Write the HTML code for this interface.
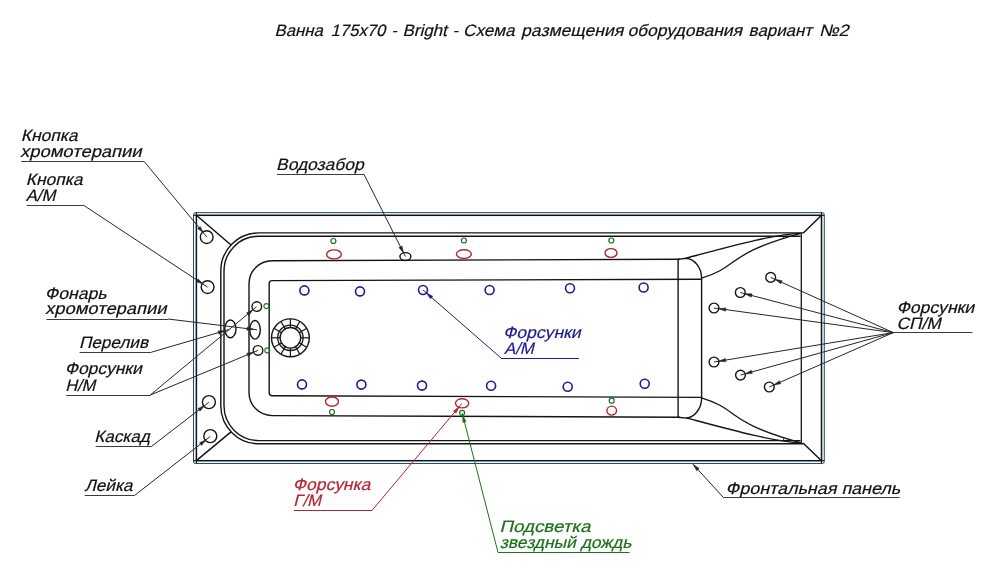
<!DOCTYPE html><html><head><meta charset="utf-8"><style>html,body{margin:0;padding:0;background:#fff;width:1000px;height:588px;overflow:hidden}svg{display:block;will-change:transform}text{font-family:"Liberation Sans",sans-serif}</style></head><body>
<svg width="1000" height="588" viewBox="0 0 1000 588">
<rect width="1000" height="588" fill="#fff"/>
<text transform="translate(274.6,36.2) skewX(-14) scale(1.015,1)" fill="#111" stroke="#111" stroke-width="0.2" font-size="16.5">Ванна</text>
<text transform="translate(330.6,36.2) skewX(-14) scale(1.01,1)" fill="#111" stroke="#111" stroke-width="0.2" font-size="16.5">175x70</text>
<text transform="translate(391.2,36.2) skewX(-14) scale(1.0,1)" fill="#111" stroke="#111" stroke-width="0.2" font-size="16.5">-</text>
<text transform="translate(402.5,36.2) skewX(-14) scale(1.0267,1)" fill="#111" stroke="#111" stroke-width="0.2" font-size="16.5">Bright</text>
<text transform="translate(452.6,36.2) skewX(-14) scale(1.0,1)" fill="#111" stroke="#111" stroke-width="0.2" font-size="16.5">-</text>
<text transform="translate(463.1,36.2) skewX(-14) scale(1.034,1)" fill="#111" stroke="#111" stroke-width="0.2" font-size="16.5">Схема</text>
<text transform="translate(521.1,36.2) skewX(-14) scale(1.0625,1)" fill="#111" stroke="#111" stroke-width="0.2" font-size="16.5">размещения</text>
<text transform="translate(627.4,36.2) skewX(-14) scale(1.059,1)" fill="#111" stroke="#111" stroke-width="0.2" font-size="16.5">оборудования</text>
<text transform="translate(748.6,36.2) skewX(-14) scale(1.0233,1)" fill="#111" stroke="#111" stroke-width="0.2" font-size="16.5">вариант</text>
<text transform="translate(819.0,36.2) skewX(-14) scale(1.1083,1)" fill="#111" stroke="#111" stroke-width="0.2" font-size="16.5">№2</text>
<rect x="193.5" y="212.6" width="630.8" height="250.9" rx="2" fill="#eef7fa" stroke="#24506a" stroke-width="1.0"/>
<rect x="196.4" y="215.3" width="625.1" height="245.4" fill="#fff" stroke="#141414" stroke-width="1.5"/>
<line x1="196.4" y1="212.6" x2="196.4" y2="215.3" stroke="#141414" stroke-width="1.2"/>
<line x1="193.5" y1="215.3" x2="196.4" y2="215.3" stroke="#141414" stroke-width="1.2"/>
<line x1="821.5" y1="212.6" x2="821.5" y2="215.3" stroke="#141414" stroke-width="1.2"/>
<line x1="821.5" y1="215.3" x2="824.3" y2="215.3" stroke="#141414" stroke-width="1.2"/>
<line x1="196.4" y1="460.7" x2="196.4" y2="463.5" stroke="#141414" stroke-width="1.2"/>
<line x1="193.5" y1="460.7" x2="196.4" y2="460.7" stroke="#141414" stroke-width="1.2"/>
<line x1="821.5" y1="460.7" x2="821.5" y2="463.5" stroke="#141414" stroke-width="1.2"/>
<line x1="821.5" y1="460.7" x2="824.3" y2="460.7" stroke="#141414" stroke-width="1.2"/>
<line x1="196.4" y1="215.3" x2="231" y2="245" stroke="#141414" stroke-width="1.5"/>
<line x1="196.4" y1="460.7" x2="231" y2="431.9" stroke="#141414" stroke-width="1.5"/>
<line x1="821.5" y1="215.3" x2="803" y2="233.3" stroke="#141414" stroke-width="1.5"/>
<line x1="821.5" y1="460.7" x2="803" y2="443" stroke="#141414" stroke-width="1.5"/>
<line x1="801.3" y1="233.3" x2="801.3" y2="443" stroke="#141414" stroke-width="1.3"/>
<path d="M803,232.9 H258.8 A38,38 0 0 0 220.8,270.9 V405.8 A38,38 0 0 0 258.8,443.8 H803" fill="none" stroke="#141414" stroke-width="1.4"/>
<path d="M800.5,236.2 H258.8 A34.8,34.8 0 0 0 224.0,271.0 V405.8 A34.8,34.8 0 0 0 258.8,440.6 H800.5" fill="none" stroke="#141414" stroke-width="1.4"/>
<path d="M680,259.3 L272,260.75 A23,23 0 0 0 249,283.75 V392.6 A23,23 0 0 0 272,415.6 L680,417.2" fill="none" stroke="#141414" stroke-width="1.4"/>
<path d="M678,259.4 L686,258.2 A17,20 0 0 1 701.6,278.2 V397.6 A17,20 0 0 1 686,418.1 L678,417.2" fill="none" stroke="#141414" stroke-width="1.4"/>
<line x1="678.1" y1="259.3" x2="678.1" y2="417.2" stroke="#141414" stroke-width="1.4"/>
<path d="M701.6,279.3 L272.2,280.6 A3,3 0 0 0 269.2,283.6 V392.75 A3,3 0 0 0 272.2,395.75 L701.6,397.4" fill="none" stroke="#141414" stroke-width="1.4"/>
<path d="M686,258.2 C727.9,247 775.4,233.7 800.6,233.3" fill="none" stroke="#141414" stroke-width="1.3"/>
<path d="M701.6,278.2 C740.5,266 725.3,254 800.6,233.3" fill="none" stroke="#141414" stroke-width="1.3"/>
<path d="M686,417.8 C727.9,429 775.4,442.3 800.6,442.7" fill="none" stroke="#141414" stroke-width="1.3"/>
<path d="M701.6,397.8 C740.5,410 725.3,422 800.6,442.7" fill="none" stroke="#141414" stroke-width="1.3"/>
<line x1="783.6" y1="236" x2="783.6" y2="239" stroke="#141414" stroke-width="0.8"/>
<line x1="783.6" y1="440" x2="783.6" y2="437" stroke="#141414" stroke-width="0.8"/>
<circle cx="290.4" cy="337.8" r="18.9" fill="none" stroke="#141414" stroke-width="1.4"/>
<circle cx="290.4" cy="337.8" r="12.7" fill="none" stroke="#141414" stroke-width="1.3"/>
<circle cx="290.4" cy="337.8" r="10.3" fill="none" stroke="#141414" stroke-width="1.3"/>
<line x1="300.70" y1="337.80" x2="309.30" y2="337.80" stroke="#141414" stroke-width="1.2"/>
<line x1="299.32" y1="342.95" x2="306.77" y2="347.25" stroke="#141414" stroke-width="1.2"/>
<line x1="295.55" y1="346.72" x2="299.85" y2="354.17" stroke="#141414" stroke-width="1.2"/>
<line x1="290.40" y1="348.10" x2="290.40" y2="356.70" stroke="#141414" stroke-width="1.2"/>
<line x1="285.25" y1="346.72" x2="280.95" y2="354.17" stroke="#141414" stroke-width="1.2"/>
<line x1="281.48" y1="342.95" x2="274.03" y2="347.25" stroke="#141414" stroke-width="1.2"/>
<line x1="280.10" y1="337.80" x2="271.50" y2="337.80" stroke="#141414" stroke-width="1.2"/>
<line x1="281.48" y1="332.65" x2="274.03" y2="328.35" stroke="#141414" stroke-width="1.2"/>
<line x1="285.25" y1="328.88" x2="280.95" y2="321.43" stroke="#141414" stroke-width="1.2"/>
<line x1="290.40" y1="327.50" x2="290.40" y2="318.90" stroke="#141414" stroke-width="1.2"/>
<line x1="295.55" y1="328.88" x2="299.85" y2="321.43" stroke="#141414" stroke-width="1.2"/>
<line x1="299.32" y1="332.65" x2="306.77" y2="328.35" stroke="#141414" stroke-width="1.2"/>
<circle cx="206.7" cy="237.1" r="6.4" fill="none" stroke="#141414" stroke-width="1.4"/>
<circle cx="207.6" cy="287.1" r="6.4" fill="none" stroke="#141414" stroke-width="1.4"/>
<circle cx="208.9" cy="402.1" r="6.5" fill="none" stroke="#141414" stroke-width="1.4"/>
<circle cx="210.3" cy="436.1" r="6.5" fill="none" stroke="#141414" stroke-width="1.4"/>
<ellipse cx="230.4" cy="328.9" rx="5.6" ry="8.9" fill="none" stroke="#141414" stroke-width="1.4"/>
<ellipse cx="255" cy="329.8" rx="5.3" ry="9.3" fill="none" stroke="#141414" stroke-width="1.4"/>
<circle cx="256.8" cy="306.6" r="4.8" fill="none" stroke="#141414" stroke-width="1.4"/>
<circle cx="258" cy="350.4" r="4.8" fill="none" stroke="#141414" stroke-width="1.4"/>
<circle cx="266.4" cy="306.1" r="2.5" fill="none" stroke="#1b721b" stroke-width="1.1"/>
<circle cx="267.3" cy="350.4" r="2.5" fill="none" stroke="#1b721b" stroke-width="1.1"/>
<ellipse cx="405.4" cy="256.6" rx="5.5" ry="4" fill="none" stroke="#141414" stroke-width="1.4"/>
<circle cx="304.4" cy="290.4" r="4.5" fill="none" stroke="#1f1c8f" stroke-width="1.6"/>
<circle cx="360" cy="291.4" r="4.5" fill="none" stroke="#1f1c8f" stroke-width="1.6"/>
<circle cx="423" cy="290" r="4.5" fill="none" stroke="#1f1c8f" stroke-width="1.6"/>
<circle cx="489.6" cy="290" r="4.5" fill="none" stroke="#1f1c8f" stroke-width="1.6"/>
<circle cx="570" cy="288.2" r="4.5" fill="none" stroke="#1f1c8f" stroke-width="1.6"/>
<circle cx="643.6" cy="287.5" r="4.5" fill="none" stroke="#1f1c8f" stroke-width="1.6"/>
<circle cx="302" cy="384.4" r="4.5" fill="none" stroke="#1f1c8f" stroke-width="1.6"/>
<circle cx="361.4" cy="384.6" r="4.5" fill="none" stroke="#1f1c8f" stroke-width="1.6"/>
<circle cx="422" cy="385.6" r="4.5" fill="none" stroke="#1f1c8f" stroke-width="1.6"/>
<circle cx="491.1" cy="385.7" r="4.5" fill="none" stroke="#1f1c8f" stroke-width="1.6"/>
<circle cx="567.7" cy="386.8" r="4.5" fill="none" stroke="#1f1c8f" stroke-width="1.6"/>
<circle cx="644.7" cy="383.8" r="4.5" fill="none" stroke="#1f1c8f" stroke-width="1.6"/>
<ellipse cx="334" cy="254.4" rx="7.3" ry="4.5" fill="none" stroke="#b22530" stroke-width="1.4"/>
<ellipse cx="463.9" cy="254.1" rx="7.5" ry="4.4" fill="none" stroke="#b22530" stroke-width="1.4"/>
<ellipse cx="611" cy="253" rx="6" ry="4.4" fill="none" stroke="#b22530" stroke-width="1.4"/>
<ellipse cx="332" cy="401.6" rx="6.5" ry="4.6" fill="none" stroke="#b22530" stroke-width="1.4"/>
<ellipse cx="462.1" cy="403.3" rx="6.6" ry="4.6" fill="none" stroke="#b22530" stroke-width="1.4"/>
<ellipse cx="611.7" cy="410.6" rx="4.8" ry="4.5" fill="none" stroke="#b22530" stroke-width="1.4"/>
<circle cx="333.4" cy="241" r="2.5" fill="none" stroke="#1b721b" stroke-width="1.2"/>
<circle cx="463.9" cy="240.5" r="2.5" fill="none" stroke="#1b721b" stroke-width="1.2"/>
<circle cx="611.3" cy="240.5" r="2.5" fill="none" stroke="#1b721b" stroke-width="1.2"/>
<circle cx="332" cy="412" r="2.5" fill="none" stroke="#1b721b" stroke-width="1.2"/>
<circle cx="462.1" cy="412.8" r="2.5" fill="none" stroke="#1b721b" stroke-width="1.2"/>
<circle cx="611.7" cy="400.7" r="2.5" fill="none" stroke="#1b721b" stroke-width="1.2"/>
<circle cx="770.7" cy="277.4" r="4.9" fill="none" stroke="#141414" stroke-width="1.4"/>
<circle cx="740.3" cy="292.5" r="4.9" fill="none" stroke="#141414" stroke-width="1.4"/>
<circle cx="714" cy="308" r="4.9" fill="none" stroke="#141414" stroke-width="1.4"/>
<circle cx="714" cy="362" r="4.9" fill="none" stroke="#141414" stroke-width="1.4"/>
<circle cx="740.5" cy="375.1" r="4.9" fill="none" stroke="#141414" stroke-width="1.4"/>
<circle cx="769.3" cy="387" r="4.9" fill="none" stroke="#141414" stroke-width="1.4"/>
<text transform="translate(20.75,140.5) skewX(-14) scale(1.061,1)" fill="#111" stroke="#111" stroke-width="0.2" font-size="16.5">Кнопка</text>
<text transform="translate(20.1,156.8) skewX(-14) scale(1.1145,1)" fill="#111" stroke="#111" stroke-width="0.2" font-size="16.5">хромотерапии</text>
<line x1="21.3" y1="161.5" x2="144" y2="161.5" stroke="#3c3c3c" stroke-width="1.0"/>
<line x1="144.00" y1="161.30" x2="206.90" y2="237.10" stroke="#262626" stroke-width="1.0"/>
<polygon points="203.39,232.87 197.61,228.57 200.23,226.40" fill="#262626" stroke="#262626" stroke-width="0.5" stroke-linejoin="round"/>
<text transform="translate(25.8,184.6) skewX(-14) scale(1.056,1)" fill="#111" stroke="#111" stroke-width="0.2" font-size="16.5">Кнопка</text>
<text transform="translate(25.8,200.6) skewX(-14) scale(1.0067,1)" fill="#111" stroke="#111" stroke-width="0.2" font-size="16.5">А/М</text>
<line x1="26.8" y1="205.5" x2="83.2" y2="205.5" stroke="#3c3c3c" stroke-width="1.0"/>
<line x1="83.20" y1="205.00" x2="207.60" y2="287.10" stroke="#262626" stroke-width="1.0"/>
<polygon points="203.01,284.07 196.23,281.63 198.10,278.80" fill="#262626" stroke="#262626" stroke-width="0.5" stroke-linejoin="round"/>
<text transform="translate(44.75,298.9) skewX(-14) scale(1.068,1)" fill="#111" stroke="#111" stroke-width="0.2" font-size="16.5">Фонарь</text>
<text transform="translate(45.1,313.75) skewX(-14) scale(1.1136,1)" fill="#111" stroke="#111" stroke-width="0.2" font-size="16.5">хромотерапии</text>
<line x1="46.4" y1="319.5" x2="168" y2="319.5" stroke="#3c3c3c" stroke-width="1.0"/>
<line x1="168.00" y1="319.00" x2="257.00" y2="329.80" stroke="#262626" stroke-width="1.0"/>
<polygon points="254.02,329.44 246.87,330.28 247.28,326.91" fill="#262626" stroke="#262626" stroke-width="0.5" stroke-linejoin="round"/>
<text transform="translate(79.0,348) skewX(-14) scale(1.0386,1)" fill="#111" stroke="#111" stroke-width="0.2" font-size="16.5">Перелив</text>
<line x1="79.6" y1="352.5" x2="151.4" y2="352.5" stroke="#3c3c3c" stroke-width="1.0"/>
<line x1="151.40" y1="352.20" x2="229.00" y2="329.50" stroke="#262626" stroke-width="1.0"/>
<polygon points="225.16,330.62 218.92,334.22 217.97,330.96" fill="#262626" stroke="#262626" stroke-width="0.5" stroke-linejoin="round"/>
<text transform="translate(64.7,374.3) skewX(-14) scale(1.0543,1)" fill="#111" stroke="#111" stroke-width="0.2" font-size="16.5">Форсунки</text>
<text transform="translate(65.2,390.6) skewX(-14) scale(0.9933,1)" fill="#111" stroke="#111" stroke-width="0.2" font-size="16.5">Н/М</text>
<line x1="66.3" y1="395.5" x2="150.3" y2="395.5" stroke="#3c3c3c" stroke-width="1.0"/>
<line x1="150.30" y1="395.00" x2="256.50" y2="306.80" stroke="#262626" stroke-width="1.0"/>
<polygon points="253.04,309.68 248.74,315.46 246.57,312.84" fill="#262626" stroke="#262626" stroke-width="0.5" stroke-linejoin="round"/>
<line x1="150.30" y1="395.00" x2="258.00" y2="350.40" stroke="#262626" stroke-width="1.0"/>
<polygon points="253.84,352.12 248.03,356.37 246.72,353.23" fill="#262626" stroke="#262626" stroke-width="0.5" stroke-linejoin="round"/>
<text transform="translate(94.3,441.8) skewX(-14) scale(1.038,1)" fill="#111" stroke="#111" stroke-width="0.2" font-size="16.5">Каскад</text>
<line x1="95.7" y1="446.5" x2="151.8" y2="446.5" stroke="#3c3c3c" stroke-width="1.0"/>
<line x1="151.80" y1="446.20" x2="208.90" y2="402.20" stroke="#262626" stroke-width="1.0"/>
<polygon points="204.54,405.56 200.04,411.18 197.96,408.48" fill="#262626" stroke="#262626" stroke-width="0.5" stroke-linejoin="round"/>
<text transform="translate(84.5,491.3) skewX(-14) scale(1.042,1)" fill="#111" stroke="#111" stroke-width="0.2" font-size="16.5">Лейка</text>
<line x1="84.7" y1="495.5" x2="134.7" y2="495.5" stroke="#3c3c3c" stroke-width="1.0"/>
<line x1="134.70" y1="495.30" x2="210.40" y2="436.40" stroke="#262626" stroke-width="1.0"/>
<polygon points="206.06,439.78 201.58,445.42 199.49,442.73" fill="#262626" stroke="#262626" stroke-width="0.5" stroke-linejoin="round"/>
<text transform="translate(276.0,170) skewX(-14) scale(1.0571,1)" fill="#111" stroke="#111" stroke-width="0.2" font-size="16.5">Водозабор</text>
<line x1="277" y1="174.5" x2="364" y2="174.5" stroke="#3c3c3c" stroke-width="1.0"/>
<line x1="364.00" y1="174.30" x2="405.40" y2="256.60" stroke="#262626" stroke-width="1.0"/>
<polygon points="403.60,253.03 398.94,247.54 401.98,246.01" fill="#262626" stroke="#262626" stroke-width="0.5" stroke-linejoin="round"/>
<text transform="translate(503.0,338) skewX(-14) scale(1.0643,1)" fill="#1f1c8f" stroke="#1f1c8f" stroke-width="0.2" font-size="16.5">Форсунки</text>
<text transform="translate(504.0,354) skewX(-14) scale(1.0167,1)" fill="#1f1c8f" stroke="#1f1c8f" stroke-width="0.2" font-size="16.5">А/М</text>
<line x1="501" y1="358.5" x2="579" y2="358.5" stroke="#1f1c8f" stroke-width="1.0"/>
<line x1="501.00" y1="358.00" x2="423.00" y2="290.00" stroke="#1f1c8f" stroke-width="1.0"/>
<polygon points="426.39,292.96 432.79,296.28 430.55,298.84" fill="#1f1c8f" stroke="#1f1c8f" stroke-width="0.5" stroke-linejoin="round"/>
<text transform="translate(896.5,313) skewX(-14) scale(1.0643,1)" fill="#111" stroke="#111" stroke-width="0.2" font-size="16.5">Форсунки</text>
<text transform="translate(896.5,328.5) skewX(-14) scale(1.05,1)" fill="#111" stroke="#111" stroke-width="0.2" font-size="16.5">СП/М</text>
<line x1="893.3" y1="332.5" x2="972.5" y2="332.5" stroke="#3c3c3c" stroke-width="1.0"/>
<line x1="893.30" y1="332.60" x2="770.70" y2="277.40" stroke="#262626" stroke-width="1.0"/>
<polygon points="775.08,279.37 782.16,280.69 780.76,283.79" fill="#262626" stroke="#262626" stroke-width="0.5" stroke-linejoin="round"/>
<line x1="893.30" y1="332.60" x2="740.30" y2="292.50" stroke="#262626" stroke-width="1.0"/>
<polygon points="744.94,293.72 752.15,293.85 751.28,297.14" fill="#262626" stroke="#262626" stroke-width="0.5" stroke-linejoin="round"/>
<line x1="893.30" y1="332.60" x2="714.00" y2="308.00" stroke="#262626" stroke-width="1.0"/>
<polygon points="718.76,308.65 725.92,307.92 725.46,311.29" fill="#262626" stroke="#262626" stroke-width="0.5" stroke-linejoin="round"/>
<line x1="893.30" y1="332.60" x2="714.00" y2="362.00" stroke="#262626" stroke-width="1.0"/>
<polygon points="718.74,361.22 725.37,358.41 725.92,361.77" fill="#262626" stroke="#262626" stroke-width="0.5" stroke-linejoin="round"/>
<line x1="893.30" y1="332.60" x2="740.50" y2="375.10" stroke="#262626" stroke-width="1.0"/>
<polygon points="745.12,373.81 751.41,370.30 752.32,373.58" fill="#262626" stroke="#262626" stroke-width="0.5" stroke-linejoin="round"/>
<line x1="893.30" y1="332.60" x2="769.30" y2="387.00" stroke="#262626" stroke-width="1.0"/>
<polygon points="773.70,385.07 779.42,380.70 780.79,383.82" fill="#262626" stroke="#262626" stroke-width="0.5" stroke-linejoin="round"/>
<text transform="translate(725.6,493.6) skewX(-14) scale(1.0869,1)" fill="#111" stroke="#111" stroke-width="0.2" font-size="16.5">Фронтальная панель</text>
<line x1="723.2" y1="497.5" x2="899.6" y2="497.5" stroke="#3c3c3c" stroke-width="1.0"/>
<line x1="723.20" y1="497.30" x2="693.20" y2="464.40" stroke="#262626" stroke-width="1.0"/>
<polygon points="693.20,464.40 699.17,468.43 696.66,470.72" fill="#262626" stroke="#262626" stroke-width="0.5" stroke-linejoin="round"/>
<text transform="translate(292.75,490) skewX(-14) scale(1.0575,1)" fill="#b22530" stroke="#b22530" stroke-width="0.2" font-size="16.5">Форсунка</text>
<text transform="translate(293.3,506) skewX(-14) scale(1.0175,1)" fill="#b22530" stroke="#b22530" stroke-width="0.2" font-size="16.5">Г/М</text>
<line x1="294" y1="510.5" x2="372.4" y2="510.5" stroke="#b22530" stroke-width="1.0"/>
<line x1="372.40" y1="510.00" x2="462.10" y2="403.30" stroke="#b22530" stroke-width="1.0"/>
<polygon points="459.20,406.74 456.00,413.20 453.40,411.01" fill="#b22530" stroke="#b22530" stroke-width="0.5" stroke-linejoin="round"/>
<text transform="translate(499.5,531.7) skewX(-14) scale(1.1362,1)" fill="#1b721b" stroke="#1b721b" stroke-width="0.2" font-size="16.5">Подсветка</text>
<text transform="translate(499.8,548.3) skewX(-14) scale(1.0569,1)" fill="#1b721b" stroke="#1b721b" stroke-width="0.2" font-size="16.5">звездный дождь</text>
<line x1="498" y1="552.5" x2="629.6" y2="552.5" stroke="#1b721b" stroke-width="1.0"/>
<line x1="498.00" y1="552.40" x2="462.10" y2="412.80" stroke="#1b721b" stroke-width="1.0"/>
<polygon points="462.72,415.22 466.11,421.58 462.82,422.42" fill="#1b721b" stroke="#1b721b" stroke-width="0.5" stroke-linejoin="round"/>
</svg></body></html>
